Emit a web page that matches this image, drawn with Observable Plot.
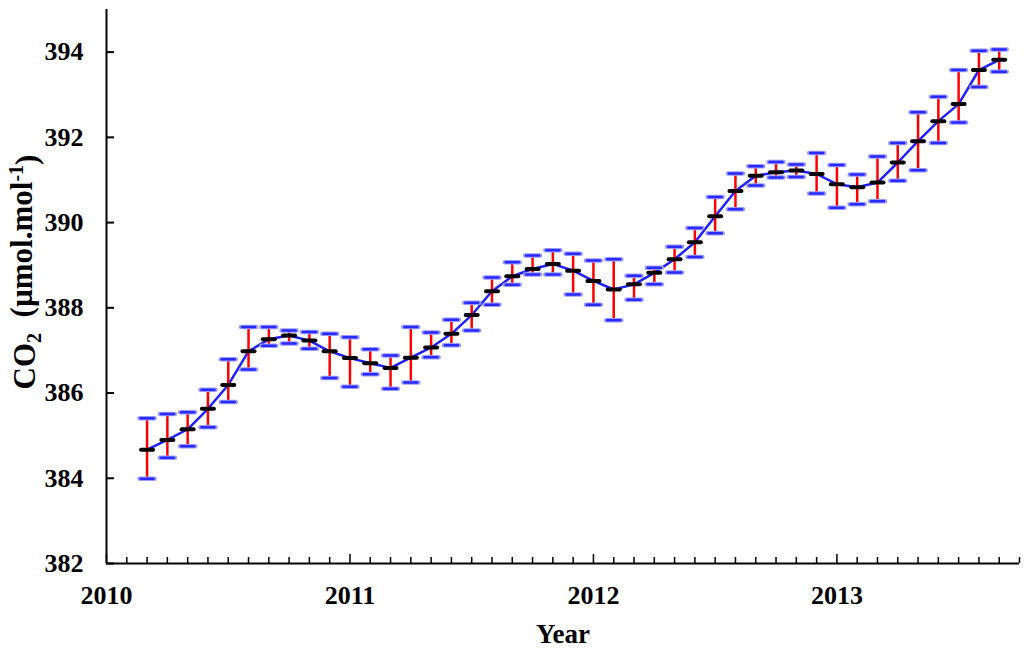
<!DOCTYPE html>
<html><head><meta charset="utf-8">
<script src="https://cdn.jsdelivr.net/npm/d3@7"></script>
<script src="https://cdn.jsdelivr.net/npm/@observablehq/plot@0.6"></script>
<style>
body{margin:0;background:#fff;overflow:hidden}
#chart svg, #chart svg text{font-family:"Liberation Serif", serif !important; font-variant: normal !important; font-variant-numeric: normal !important;}
</style>
</head><body><div id="chart"></div>
<script>
// Monthly CO2 means with error bars
const months = ["2010-03","2010-04","2010-05","2010-06","2010-07","2010-08","2010-09","2010-10","2010-11","2010-12",
  "2011-01","2011-02","2011-03","2011-04","2011-05","2011-06","2011-07","2011-08","2011-09","2011-10","2011-11","2011-12",
  "2012-01","2012-02","2012-03","2012-04","2012-05","2012-06","2012-07","2012-08","2012-09","2012-10","2012-11","2012-12",
  "2013-01","2013-02","2013-03","2013-04","2013-05","2013-06","2013-07","2013-08","2013-09"];
const meanCO2 = [384.67,384.90,385.15,385.63,386.19,386.98,387.26,387.35,387.23,386.98,
  386.82,386.70,386.59,386.83,387.07,387.39,387.83,388.39,388.74,388.91,389.03,388.87,
  388.63,388.43,388.55,388.82,389.14,389.54,390.15,390.74,391.10,391.18,391.22,391.14,
  390.90,390.83,390.94,391.41,391.91,392.38,392.78,393.58,393.82];
const upperCO2 = [385.41,385.51,385.55,386.08,386.79,387.55,387.55,387.47,387.43,387.39,
  387.31,387.03,386.88,387.55,387.42,387.72,388.12,388.71,389.07,389.23,389.35,389.27,
  389.11,389.14,388.75,388.94,389.43,389.87,390.60,391.15,391.32,391.42,391.36,391.63,
  391.35,391.13,391.55,391.87,392.59,392.95,393.58,394.03,394.06];
const lowerCO2 = [383.99,384.48,384.75,385.20,385.79,386.55,387.11,387.16,387.04,386.35,
  386.15,386.44,386.10,386.25,386.84,387.12,387.47,388.07,388.54,388.78,388.78,388.31,
  388.07,387.71,388.19,388.55,388.83,389.19,389.75,390.31,390.87,391.06,391.07,390.68,
  390.35,390.43,390.50,390.98,391.23,391.87,392.35,393.18,393.54];
const yearTicks = [2010, 2011, 2012, 2013];
const yTicks = [382, 384, 386, 388, 390, 392, 394];
const xDomain = [2010, 2013.75];
const yDomain = [382, 395];

const toYear = s => { const [y, m] = s.split("-").map(Number); return y + (m - 1) / 12; };
const data = months.map((s, i) => ({x: toYear(s), mean: meanCO2[i], hi: upperCO2[i], lo: lowerCO2[i]}));
const monthTicks = d3.range(1, 46).map(k => xDomain[0] + k / 12).filter(v => !yearTicks.some(t => Math.abs(t - v) < 1e-6));

const hbar = {draw(ctx, l) { ctx.moveTo(0, 0); ctx.lineTo(0, -l); }};
const font = "Liberation Serif";

const chart = Plot.plot({
  width: 1024, height: 651,
  marginLeft: 106, marginRight: 5, marginTop: 9, marginBottom: 88,
  style: "font-family: 'Liberation Serif', serif; background: #fff;",
  x: {domain: xDomain},
  y: {domain: yDomain},
  marks: [
    Plot.axisX({ticks: monthTicks, tickSize: -6, tickFormat: () => "", label: null, strokeWidth: 1.5}),
    Plot.axisX({ticks: yearTicks, tickSize: -9, tickPadding: 31, tickFormat: d => String(d), label: null, fontSize: 26, fontWeight: "bold", fontFamily: font, fontVariant: "normal", fill: "#000", strokeWidth: 1.5}),
    Plot.axisY({ticks: yTicks, tickSize: -8, tickPadding: 31, tickFormat: d => String(d), label: null, fontSize: 26, fontWeight: "bold", fontFamily: font, fontVariant: "normal", fill: "#000", strokeWidth: 2}),
    Plot.ruleX([xDomain[0]], {stroke: "#000", strokeWidth: 2}),
    Plot.ruleY([yDomain[0]], {stroke: "#000", strokeWidth: 2}),
    Plot.line(data, {x: "x", y: "mean", stroke: "#1f1fff", strokeWidth: 2.5}),
    Plot.ruleX(data, {x: "x", y1: "lo", y2: "hi", stroke: "#ff0000", strokeWidth: 2.5}),
    Plot.vector(data, {x: "x", y: "hi", length: 15, rotate: 90, anchor: "middle", shape: hbar, stroke: "#9a9aff", strokeWidth: 4.5}),
    Plot.vector(data, {x: "x", y: "lo", length: 15, rotate: 90, anchor: "middle", shape: hbar, stroke: "#9a9aff", strokeWidth: 4.5}),
    Plot.vector(data, {x: "x", y: "hi", length: 13, rotate: 90, anchor: "middle", shape: hbar, stroke: "#2a2aff", strokeWidth: 2.5}),
    Plot.vector(data, {x: "x", y: "lo", length: 13, rotate: 90, anchor: "middle", shape: hbar, stroke: "#2a2aff", strokeWidth: 2.5}),
    Plot.vector(data, {x: "x", y: "mean", length: 12, rotate: 90, anchor: "middle", shape: hbar, stroke: "#000", strokeWidth: 4})
  ]
});

const svg = d3.select(chart);
// Axis titles
svg.append("text")
  .attr("x", 563).attr("y", 643)
  .attr("text-anchor", "middle")
  .style("font-weight", "bold").style("font-size", "27px").attr("fill", "#000")
  .text("Year");

const yl = svg.append("text")
  .attr("transform", "translate(35,272) rotate(-90)")
  .attr("text-anchor", "middle")
  .style("font-weight", "bold").style("font-size", "31px").attr("fill", "#000");
yl.append("tspan").text("CO");
yl.append("tspan").attr("dy", "0.3em").style("font-size", "20px").text("2");
yl.append("tspan").attr("dy", "-0.3em").text("\u00a0 (\u00b5mol.mol");
yl.append("tspan").attr("dy", "-0.45em").style("font-size", "20px").text("-1");
yl.append("tspan").attr("dy", "0.45em").text(")");

document.getElementById("chart").appendChild(chart);
</script>
</body></html>
